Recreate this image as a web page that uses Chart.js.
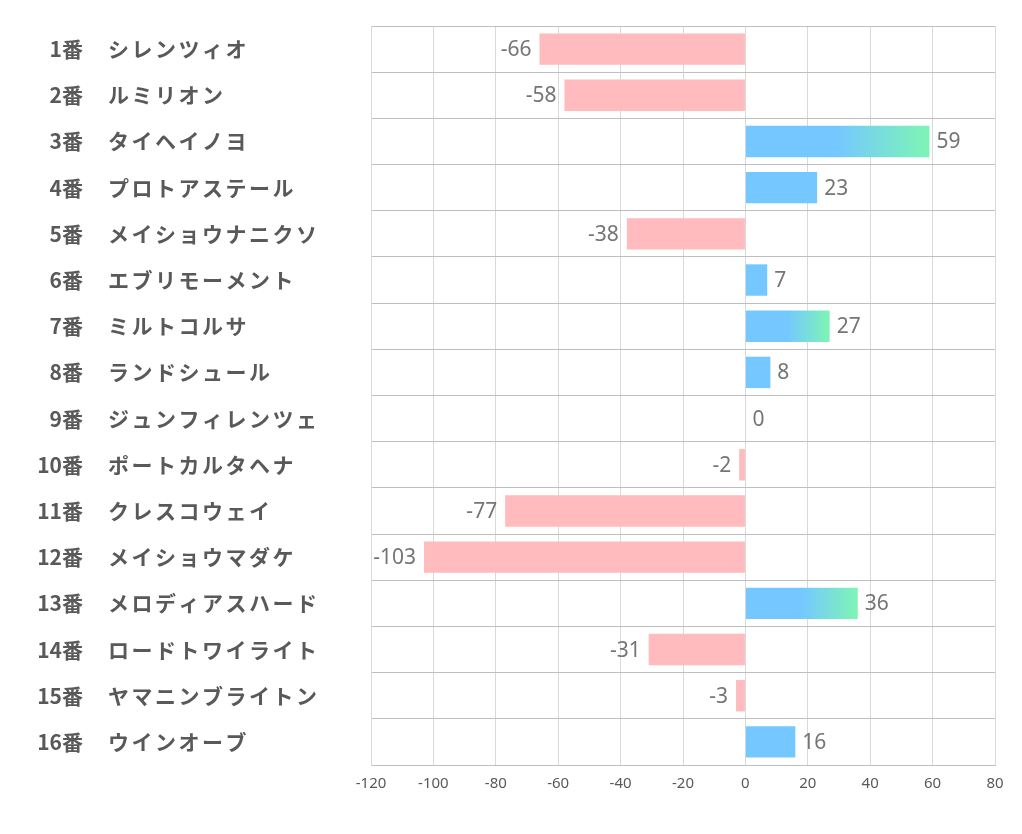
<!DOCTYPE html>
<html>
<head>
<meta charset="utf-8">
<title>chart</title>
<script src="https://cdn.jsdelivr.net/npm/chart.js@4.4.0/dist/chart.umd.min.js"></script>
<style>
  body { margin: 0; background: #fff; }
</style>
</head>
<body>
<canvas id="chart" width="1022" height="834"></canvas>
<script>
// horse numbers and names
const nums = ['1番','2番','3番','4番','5番','6番','7番','8番','9番','10番','11番','12番','13番','14番','15番','16番'];
const names = ['シレンツィオ','ルミリオン','タイヘイノヨ','プロトアステール','メイショウナニクソ','エブリモーメント','ミルトコルサ','ランドシュール','ジュンフィレンツェ','ポートカルタヘナ','クレスコウェイ','メイショウマダケ','メロディアスハード','ロードトワイライト','ヤマニンブライトン','ウインオーブ'];
const values = [-66, -58, 59, 23, -38, 7, 27, 8, 0, -2, -77, -103, 36, -31, -3, 16];
const xTicks = [-120, -100, -80, -60, -40, -20, 0, 20, 40, 60, 80];

const PINK = 'rgba(255, 187, 189, 1)';
const BLUE = 'rgba(117, 200, 255, 1)';
const GREEN = 'rgba(125, 245, 180, 1)';
const TEXT = '#595959';

function barColor(c) {
  const v = c.raw;
  if (v < 0) return PINK;
  if (v <= 25) return BLUE;
  const chart = c.chart;
  const x = chart.scales.x;
  if (!chart.chartArea || !x) return BLUE;
  const x0 = x.getPixelForValue(0);
  const x1 = x.getPixelForValue(v);
  const g = chart.ctx.createLinearGradient(x0, 0, x1, 0);
  g.addColorStop(0, BLUE);
  g.addColorStop(0.5, BLUE);
  g.addColorStop(1, GREEN);
  return g;
}

// left-hand labels: number right aligned, name left aligned
const rowLabels = {
  id: 'rowLabels',
  afterDraw(chart) {
    const ctx = chart.ctx;
    const y = chart.scales.y;
    ctx.save();
    ctx.fillStyle = TEXT;
    ctx.font = 'bold 21px "Noto Sans CJK JP", "Noto Sans", sans-serif';
    ctx.textBaseline = 'middle';
    nums.forEach((n, i) => {
      const py = y.getPixelForValue(i);
      ctx.letterSpacing = '0px';
      ctx.textAlign = 'right';
      ctx.fillText(n, 83, py);
      ctx.letterSpacing = '2.5px';
      ctx.textAlign = 'left';
      ctx.fillText(names[i], 108, py);
    });
    ctx.restore();
  }
};

// value labels next to bars
const valueLabels = {
  id: 'valueLabels',
  afterDatasetsDraw(chart) {
    const ctx = chart.ctx;
    const meta = chart.getDatasetMeta(0);
    ctx.save();
    ctx.fillStyle = '#757575';
    ctx.font = '21px "Noto Sans", sans-serif';
    ctx.textBaseline = 'middle';
    meta.data.forEach((bar, i) => {
      const v = values[i];
      if (v < 0) {
        ctx.textAlign = 'right';
        ctx.fillText(String(v), bar.x - 8, bar.y + 1);
      } else {
        ctx.textAlign = 'left';
        ctx.fillText(String(v), bar.x + 7, bar.y + 1);
      }
    });
    ctx.restore();
  }
};

const ctx = document.getElementById('chart').getContext('2d');
new Chart(ctx, {
  type: 'bar',
  data: {
    labels: nums.map((n, i) => n + '　' + names[i]),
    datasets: [{
      data: values,
      backgroundColor: barColor,
      borderWidth: 0,
      barPercentage: 0.68,
      categoryPercentage: 1
    }]
  },
  options: {
    indexAxis: 'y',
    responsive: false,
    animation: false,
    layout: { padding: { left: 371, right: 27, top: 26, bottom: 31 } },
    plugins: {
      legend: { display: false },
      tooltip: { enabled: false }
    },
    scales: {
      x: {
        min: -120,
        max: 80,
        afterBuildTicks(scale) {
          scale.ticks = xTicks.map(v => ({ value: v }));
        },
        grid: { color: '#d9d9d9', drawTicks: false, lineWidth: 1 },
        border: { color: '#bfbfbf' },
        ticks: {
          color: TEXT,
          font: { size: 15, family: '"Liberation Sans Narrow", "Noto Sans", sans-serif' },
          padding: 10,
          maxRotation: 0
        }
      },
      y: {
        grid: { color: '#bfbfbf', drawTicks: false, offset: true },
        border: { color: '#d9d9d9' },
        ticks: { display: false }
      }
    }
  },
  plugins: [rowLabels, valueLabels]
});
</script>
</body>
</html>
